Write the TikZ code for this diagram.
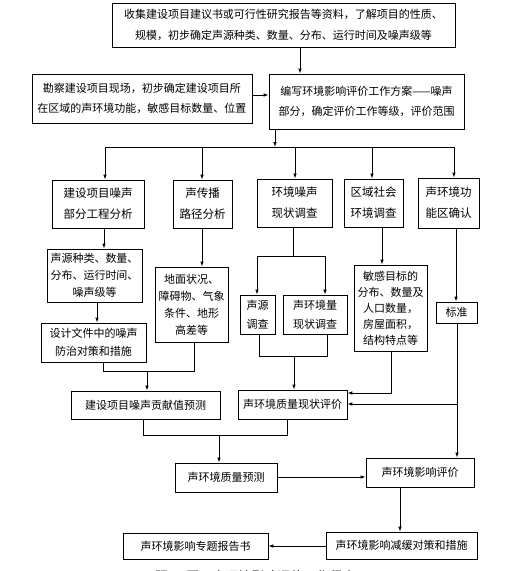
\documentclass[tikz,border=0pt]{standalone}
\usepackage{fontspec}
\setmainfont{Noto Sans CJK SC}
\usetikzlibrary{arrows.meta,calc}
\begin{document}
\begin{tikzpicture}[x=1pt,y=-1pt,
  box/.style 2 args={draw, line width=0.9pt, inner sep=0pt, align=center, minimum width=#1, minimum height=#2},
  arr/.style={draw, line width=0.9pt, -{Latex[length=5pt,width=3.6pt]}},
  ln/.style={draw, line width=0.9pt},
  fbig/.style={font=\fontsize{11}{20.5}\selectfont},
  fmid/.style={font=\fontsize{11.5}{21}\selectfont},
  fsma/.style={font=\fontsize{11}{17}\selectfont},
  fone/.style={font=\fontsize{11}{13}\selectfont}]
\useasboundingbox (0,0) rectangle (509,571);
% boxes
\node[box={343}{44},fbig] (b1) at (283.5,25) {收集建设项目建议书或可行性研究报告等资料，了解项目的性质、\\规模，初步确定声源种类、数量、分布、运行时间及噪声级等};
\node[box={220}{49},fbig] (b2) at (142,98.5) {勘察建设项目现场，初步确定建设项目所\\在区域的声环境功能，敏感目标数量、位置};
\node[box={195}{55},fbig] (b3) at (366.5,101.5) {编写环境影响评价工作方案——噪声\\部分，确定评价工作等级，评价范围};
\node[box={92}{48},fmid] (A) at (98,204) {建设项目噪声\\部分工程分析};
\node[box={59}{48},fmid] (B) at (202.5,204) {声传播\\路径分析};
\node[box={75}{48},fmid] (C) at (294.5,203) {环境噪声\\现状调查};
\node[box={59}{48},fmid] (D) at (373.5,203) {区域社会\\环境调查};
\node[box={61}{50},fmid] (E) at (448.5,203) {声环境功\\能区确认};
\node[box={95}{53},fsma] (A1) at (94.5,275.5) {声源种类、数量、\\分布、运行时间、\\噪声级等};
\node[box={105}{39},font=\fontsize{11}{18}\selectfont] (A2) at (93.5,342.5) {设计文件中的噪声\\防治对策和措施};
\node[box={73}{75},fsma] (B1) at (191.5,304.5) {地面状况、\\障碍物、气象\\条件、地形\\高差等};
\node[box={35}{39},font=\fontsize{11}{19}\selectfont] (C1) at (257.5,314.5) {声源\\调查};
\node[box={64}{39},font=\fontsize{11}{19}\selectfont] (C2) at (315,314.5) {声环境量\\现状调查};
\node[box={73}{86},font=\fontsize{11}{16}\selectfont] (D1) at (390.5,308) {敏感目标的\\分布、数量及\\人口数量，\\房屋面积，\\结构特点等};
\node[box={41}{21},fone] (E1) at (456.5,312.5) {标准};
\node[box={149}{28},fone] (F) at (145.5,405) {建设项目噪声贡献值预测};
\node[box={109}{29},fone] (G) at (292.5,404.5) {声环境质量现状评价};
\node[box={102}{29},fone] (H) at (226,477.5) {声环境质量预测};
\node[box={108}{29},fone] (I) at (420,472.5) {声环境影响评价};
\node[box={151}{27},fone] (J) at (401.5,545.5) {声环境影响减缓对策和措施};
\node[box={145}{26},fone] (K) at (195.5,546) {声环境影响专题报告书};
% helper coordinates
\coordinate (x300) at (300,0);
\coordinate (y95) at (0,95);
\coordinate (bus) at (275,147);
\coordinate (busL) at (105,147);
\coordinate (busR) at (454,147);
\coordinate (xB) at (202,147);
\coordinate (xC) at (295,147);
\coordinate (xD) at (372,147);
\coordinate (xA1) at (104,0);
\coordinate (xA2) at (97,0);
\coordinate (mAB1) at (103,371);
\coordinate (mAB2) at (194,371);
\coordinate (mAB) at (147,371);
\coordinate (sC) at (293,256);
\coordinate (sC1) at (257,256);
\coordinate (sC2) at (325,256);
\coordinate (mC1) at (259,356);
\coordinate (mC2) at (327,356);
\coordinate (mC) at (294,356);
\coordinate (xD1) at (382,0);
\coordinate (dG) at (391,393);
\coordinate (xE1) at (456,0);
\coordinate (eI) at (457,404);
\coordinate (mFG1) at (143,435);
\coordinate (mFG2) at (287,435);
\coordinate (mFG) at (219,435);
\coordinate (yHI) at (0,477);
\coordinate (xIJ) at (400,0);
\coordinate (yJK) at (0,546);
% connectors
\draw[arr] (x300 |- b1.south) -- (x300 |- b3.north);
\draw[arr] (b2.east |- y95) -- (b3.west |- y95);
\draw[arr] (bus |- b3.south) -- (bus);
\draw[ln] (busL) -- (busR);
\draw[arr] (busL) -- (busL |- A.north);
\draw[arr] (xB) -- (xB |- B.north);
\draw[arr] (xC) -- (xC |- C.north);
\draw[arr] (xD) -- (xD |- D.north);
\draw[arr] (busR) -- (busR |- E.north);
\draw[arr] (xA1 |- A.south) -- (xA1 |- A1.north);
\draw[arr] (xA2 |- A1.south) -- (xA2 |- A2.north);
\draw[arr] (xB |- B.south) -- (xB |- B1.north);
\draw[ln] (mAB1 |- A2.south) -- (mAB1) -- (mAB2) -- (mAB2 |- B1.south);
\draw[arr] (mAB) -- (mAB |- F.north);
\draw[ln] (sC |- C.south) -- (sC);
\draw[ln] (sC1) -- (sC2);
\draw[arr] (sC1) -- (sC1 |- C1.north);
\draw[arr] (sC2) -- (sC2 |- C2.north);
\draw[ln] (mC1 |- C1.south) -- (mC1) -- (mC2) -- (mC2 |- C2.south);
\draw[arr] (mC) -- (mC |- G.north);
\draw[arr] (xD1 |- D.south) -- (xD1 |- D1.north);
\draw[arr] (dG |- D1.south) -- (dG) -- (G.east |- dG);
\draw[arr] (xE1 |- E.south) -- (xE1 |- E1.north);
\draw[arr] (eI |- E1.south) -- (eI |- I.north);
\draw[arr] (eI) -- (G.east |- eI);
\draw[ln] (mFG1 |- F.south) -- (mFG1) -- (mFG2) -- (mFG2 |- G.south);
\draw[arr] (mFG) -- (mFG |- H.north);
\draw[arr] (H.east |- yHI) -- (I.west |- yHI);
\draw[arr] (xIJ |- I.south) -- (xIJ |- J.north);
\draw[arr] (J.west |- yJK) -- (K.east |- yJK);
% caption (cut off at the bottom edge)
\begin{scope}
\clip (0,0) rectangle (509,571);
\node[font=\fontsize{13}{15}\selectfont, inner sep=0pt] (cap) at (255,576.5) {题8-1图\quad 声环境影响评价工作程序};
\end{scope}
\end{tikzpicture}
\end{document}
